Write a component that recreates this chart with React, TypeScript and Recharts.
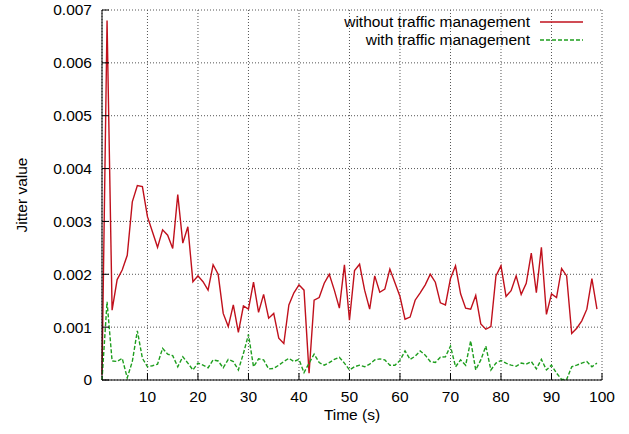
import { LineChart, Line, XAxis, YAxis, CartesianGrid, Legend, Label } from 'recharts';

// jitter per second
const TIME = Array.from({ length: 99 }, (_, i) => i + 1);

const WITHOUT_TM = [
  0.0001, 0.0068, 0.00132, 0.0019, 0.00208, 0.00236, 0.00337, 0.00368, 0.00366, 0.00309,
  0.0028, 0.00251, 0.00284, 0.00274, 0.00249, 0.00351, 0.00259, 0.0029, 0.00186, 0.00197,
  0.00186, 0.0017, 0.00218, 0.002, 0.00126, 0.00101, 0.00142, 0.0009, 0.0014, 0.00134,
  0.00185, 0.00128, 0.00162, 0.00117, 0.00126, 0.00079, 0.00069, 0.00142, 0.00165, 0.0018,
  0.0017, 0.00013, 0.00151, 0.00156, 0.00183, 0.002, 0.0017, 0.00136, 0.00218, 0.00113,
  0.00207, 0.00219, 0.0017, 0.00134, 0.00197, 0.00166, 0.00172, 0.0021, 0.00184, 0.00158,
  0.00115, 0.00119, 0.00151, 0.00165, 0.0018, 0.002, 0.00185, 0.00146, 0.00142, 0.00192,
  0.00216, 0.00163, 0.00136, 0.00134, 0.0016, 0.00106, 0.00096, 0.00101, 0.00197, 0.00216,
  0.00158, 0.00169, 0.00197, 0.00162, 0.00183, 0.0024, 0.00165, 0.00251, 0.00124, 0.00163,
  0.00156, 0.00211, 0.00197, 0.00088, 0.00098, 0.00112, 0.00134, 0.00192, 0.00134,
];

const WITH_TM = [
  0, 0.00148, 0.00036, 0.00035, 0.00041, 0.00004, 0.00035, 0.00093, 0.00041, 0.00025,
  0.00027, 0.0003, 0.0006, 0.00049, 0.00046, 0.00025, 0.00044, 0.00032, 0.00019, 0.00032,
  0.00028, 0.00023, 0.00038, 0.00036, 0.00023, 0.00039, 0.00035, 0.00019, 0.0005, 0.00086,
  0.00025, 0.0004, 0.00038, 0.00021, 0.00022, 0.00028, 0.00035, 0.00041, 0.00035, 0.00039,
  0.00014, 0.00032, 0.00049, 0.00033, 0.00028, 0.00033, 0.00039, 0.00043, 0.00032, 0.00019,
  0.00025, 0.00028, 0.00025, 0.0003, 0.00038, 0.0004, 0.00038, 0.00028, 0.00028, 0.00037,
  0.00055, 0.00039, 0.00045, 0.00055, 0.00047, 0.00035, 0.00033, 0.00043, 0.00044, 0.00064,
  0.00025, 0.00038, 0.00028, 0.00074, 0.00019, 0.00038, 0.00064, 0.00019, 0.00032, 0.00037,
  0.00032, 0.00028, 0.00026, 0.00032, 0.0003, 0.00035, 0.00021, 0.00039, 0.00019, 0.00028,
  0.00013, 0.00001, 0.00001, 0.00025, 0.00028, 0.00032, 0.00035, 0.00025, 0.00032,
];

const X_TICKS = [10, 20, 30, 40, 50, 60, 70, 80, 90, 100];
const Y_TICKS = [0, 0.001, 0.002, 0.003, 0.004, 0.005, 0.006, 0.007];

const SERIES = [
  { key: 'without', name: 'without traffic management', color: '#c0101c', dash: undefined },
  { key: 'with', name: 'with traffic management', color: '#1e9e1e', dash: '4 2' },
];

const rows = TIME.map((t, i) => ({ t, without: WITHOUT_TM[i], with: WITH_TM[i] }));

const W = 629;
const H = 434;
const FONT = 15.5;
const TICK_LEN = 7;

const fmtY = (v: number) => (v === 0 ? '0' : v.toFixed(3));

// gnuplot style: ticks point into the plot, labels outside
const LeftTick = ({ x, y, payload }: any) => (
  <g>
    <line x1={x} x2={x + TICK_LEN} y1={y} y2={y} stroke="#000" />
    <text x={x - 10} y={y} dy="0.35em" textAnchor="end" fontSize={FONT} fill="#000">
      {fmtY(payload.value)}
    </text>
  </g>
);

const RightTick = ({ x, y }: any) => <line x1={x - TICK_LEN} x2={x} y1={y} y2={y} stroke="#000" />;

const BottomTick = ({ x, y, payload }: any) => (
  <g>
    <line x1={x} x2={x} y1={y} y2={y - TICK_LEN} stroke="#000" />
    <text x={x} y={y + 17} dy="0.35em" textAnchor="middle" fontSize={FONT} fill="#000">
      {payload.value}
    </text>
  </g>
);

const TopTick = ({ x, y }: any) => <line x1={x} x2={x} y1={y} y2={y + TICK_LEN} stroke="#000" />;

function renderLegend() {
  return (
    <svg width={W} height={50} style={{ display: 'block' }}>
      {SERIES.map((s, i) => {
        const cy = 22 + i * 18;
        return (
          <g key={s.key}>
            <text x={530} y={cy} dy="0.35em" textAnchor="end" fontSize={FONT} fill="#000">
              {s.name}
            </text>
            <line x1={540} x2={583} y1={cy} y2={cy} stroke={s.color} strokeWidth={1.4} strokeDasharray={s.dash} />
          </g>
        );
      })}
    </svg>
  );
}

export default function App() {
  return (
    <div
      style={{
        position: 'absolute',
        left: 0,
        top: 0,
        width: W,
        height: H,
        background: '#fff',
        fontFamily: '"Liberation Sans", Arial, sans-serif',
      }}
    >
      <LineChart width={W} height={H} data={rows} margin={{ top: 10, right: 27, bottom: 14, left: 12 }}>
        <CartesianGrid stroke="#555" strokeDasharray="1 2" />
        <XAxis
          dataKey="t"
          type="number"
          domain={[1, 100]}
          ticks={X_TICKS}
          interval={0}
          height={40}
          tickSize={0}
          tickMargin={0}
          tickLine={false}
          axisLine={{ stroke: '#000' }}
          tick={<BottomTick />}
        >
          <Label
            content={({ viewBox }: any) => (
              <text
                x={viewBox.x + viewBox.width / 2}
                y={viewBox.y + 35}
                dy="0.35em"
                textAnchor="middle"
                fontSize={FONT}
                fill="#000"
              >
                Time (s)
              </text>
            )}
          />
        </XAxis>
        <XAxis
          xAxisId="top"
          orientation="top"
          dataKey="t"
          type="number"
          domain={[1, 100]}
          ticks={X_TICKS}
          interval={0}
          height={0}
          tickSize={0}
          tickMargin={0}
          tickLine={false}
          axisLine={{ stroke: '#000' }}
          tick={<TopTick />}
        />
        <YAxis
          type="number"
          domain={[0, 0.007]}
          ticks={Y_TICKS}
          interval={0}
          width={90}
          tickSize={0}
          tickMargin={0}
          tickLine={false}
          axisLine={{ stroke: '#000' }}
          tick={<LeftTick />}
        >
          <Label
            content={({ viewBox }: any) => {
              const lx = viewBox.x + 10;
              const ly = viewBox.y + viewBox.height / 2;
              return (
                <text
                  x={lx}
                  y={ly}
                  dy="0.35em"
                  textAnchor="middle"
                  fontSize={FONT}
                  fill="#000"
                  transform={`rotate(-90 ${lx} ${ly})`}
                >
                  Jitter value
                </text>
              );
            }}
          />
        </YAxis>
        <YAxis
          yAxisId="right"
          orientation="right"
          type="number"
          domain={[0, 0.007]}
          ticks={Y_TICKS}
          interval={0}
          width={0}
          tickSize={0}
          tickMargin={0}
          tickLine={false}
          axisLine={{ stroke: '#000' }}
          tick={<RightTick />}
        />
        <Legend
          content={renderLegend}
          verticalAlign="middle"
          wrapperStyle={{ top: 0, left: 0, width: W, height: 50 }}
        />
        {SERIES.map((s) => (
          <Line
            key={s.key}
            type="linear"
            dataKey={s.key}
            name={s.name}
            stroke={s.color}
            strokeWidth={1.4}
            strokeDasharray={s.dash}
            dot={false}
            isAnimationActive={false}
          />
        ))}
      </LineChart>
    </div>
  );
}
